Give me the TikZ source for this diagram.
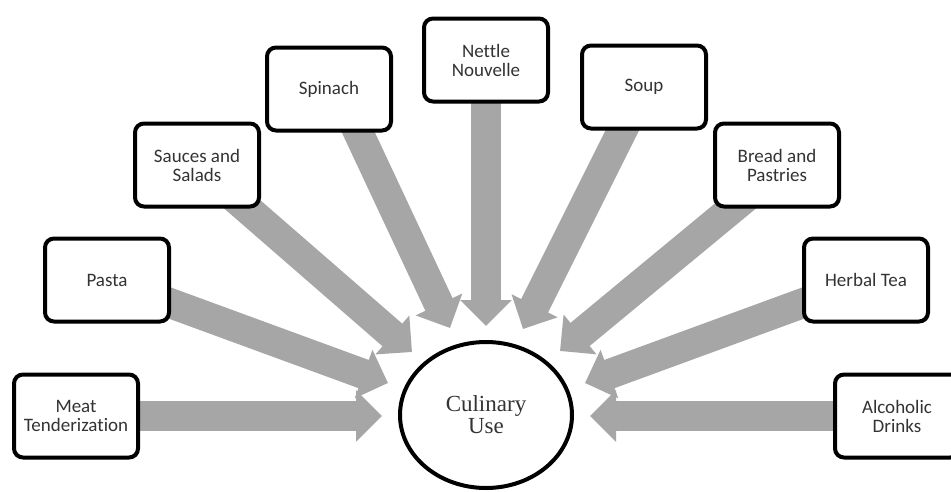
\documentclass[tikz,border=0pt]{standalone}
\usepackage{fontspec}
\setmainfont{Liberation Serif}
\newfontfamily\boxfont[Ligatures=NoCommon]{Carlito}
\usetikzlibrary{arrows.meta,shadows,backgrounds,shapes.geometric}
\definecolor{arrowgray}{HTML}{A6A6A6}
\definecolor{txtgray}{HTML}{333333}
\begin{document}
\begin{tikzpicture}[x=1pt,y=-1pt,
  item/.style={draw=black, line width=4pt, rounded corners=9pt, fill=white,
    minimum width=124pt, minimum height=83pt, inner sep=0pt, align=center,
    font=\boxfont\fontsize{19}{19}\selectfont, text=txtgray,
    drop shadow={shadow xshift=1.5pt, shadow yshift=-1.5pt, opacity=0.3, fill=black}},
  hub/.style={draw=black, line width=4pt, ellipse, fill=white,
    minimum width=172pt, minimum height=146pt, inner sep=0pt, align=center,
    font=\fontsize{23}{22}\selectfont, text=txtgray},
  arr/.style={draw=arrowgray, line width=30pt, -{Triangle[width=50pt,length=26pt]}}]
\clip (0,0) rectangle (951,491);

\node[item] (meat) at (76,416) {Meat\\Tenderization};
\node[item] (pasta) at (107,280) {Pasta};
\node[item] (sauces) at (197,165) {Sauces and\\Salads};
\node[item] (spinach) at (329,89) {Spinach};
\node[item] (nettle) at (486,60) {Nettle\\Nouvelle};
\node[item] (soup) at (644,87) {Soup};
\node[item] (bread) at (777,165) {Bread and\\Pastries};
\node[item] (herbal) at (866,280) {Herbal Tea};
\node[item] (alcohol) at (897,416) {Alcoholic\\Drinks};

\node[hub] (cu) at (486,415) {Culinary\\Use};

\coordinate (tMeat) at (382,416);
\coordinate (tPasta) at (388,383);
\coordinate (tSauce) at (412,352);
\coordinate (tSpin) at (450,328);
\coordinate (tNet) at (486,326);
\coordinate (tSoup) at (523,329);
\coordinate (tBread) at (560,351);
\coordinate (tHerb) at (585,383);
\coordinate (tAlc) at (590,416);

\begin{scope}[on background layer]
\fill[white] (0,0) rectangle (951,491);
\draw[arr] (meat.center) -- (tMeat);
\draw[arr] (pasta.center) -- (tPasta);
\draw[arr] (sauces.center) -- (tSauce);
\draw[arr] ([xshift=9pt]spinach.center) -- (tSpin);
\draw[arr] (nettle.center) -- (tNet);
\draw[arr] (soup.center) -- (tSoup);
\draw[arr] ([xshift=8pt]bread.center) -- (tBread);
\draw[arr] (herbal.center) -- (tHerb);
\draw[arr] (alcohol.center) -- (tAlc);
\end{scope}
\end{tikzpicture}
\end{document}
